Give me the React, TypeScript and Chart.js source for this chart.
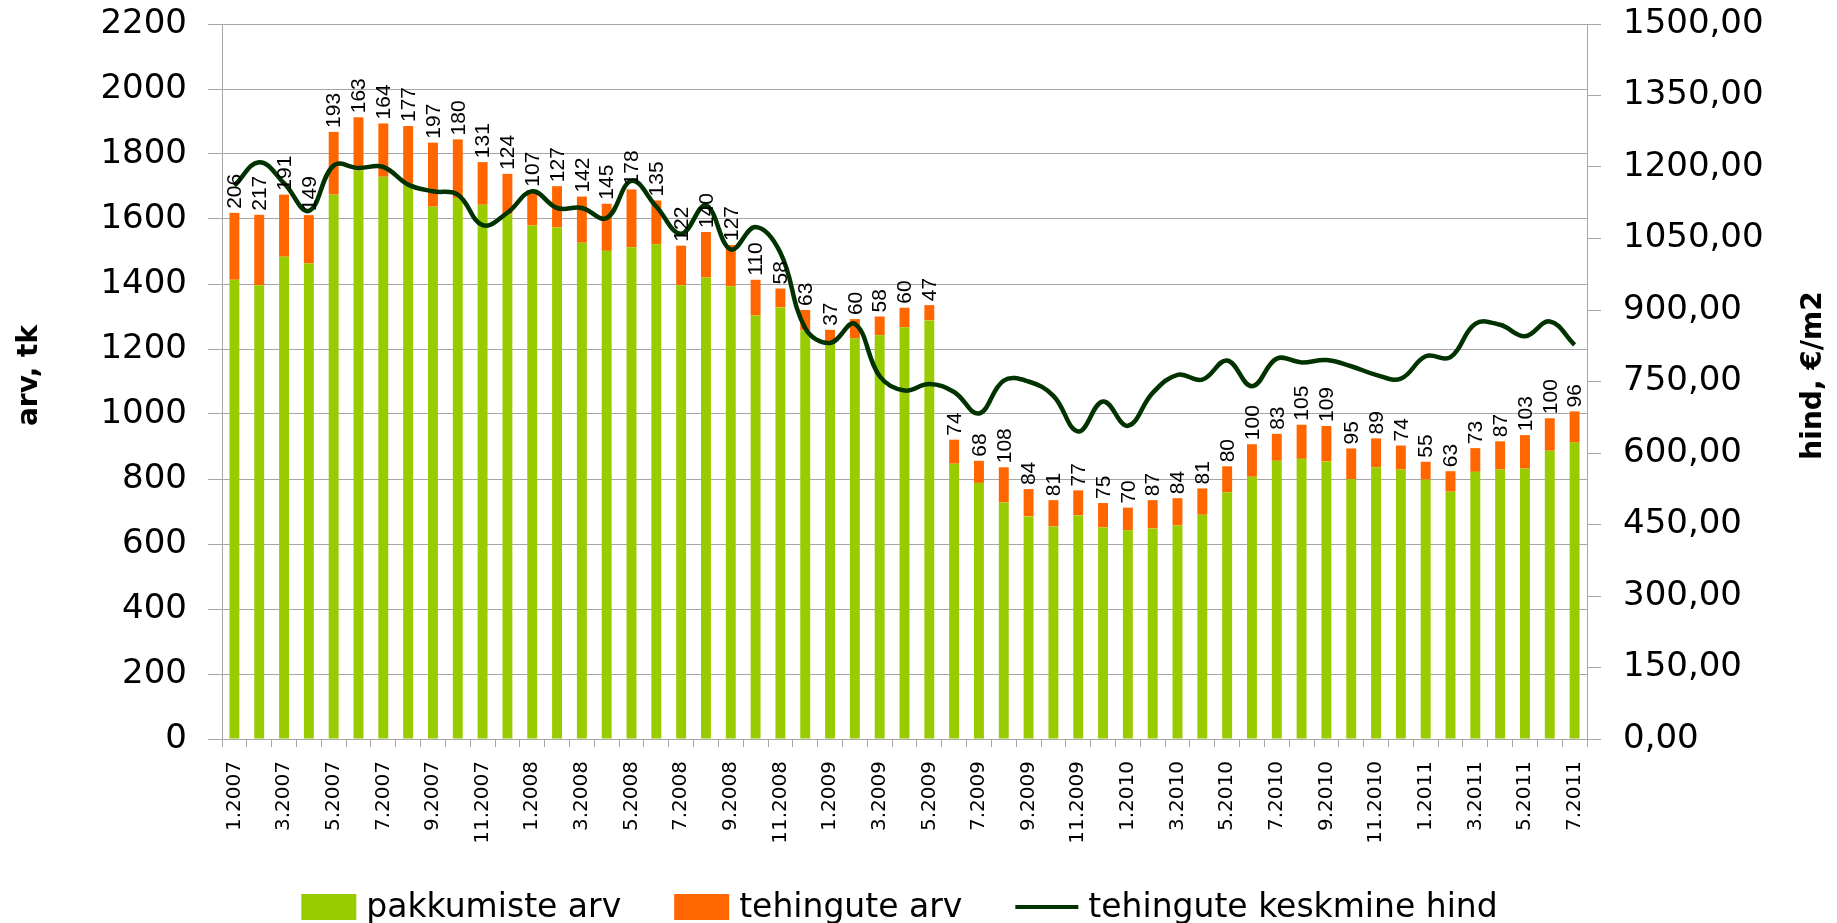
import React, { useEffect, useRef } from 'react';
import { Chart, registerables } from 'chart.js';

Chart.register(...registerables);

const months: string[] = [
  '1.2007', '2.2007', '3.2007', '4.2007', '5.2007', '6.2007', '7.2007', '8.2007', '9.2007', '10.2007', '11.2007', '12.2007',
  '1.2008', '2.2008', '3.2008', '4.2008', '5.2008', '6.2008', '7.2008', '8.2008', '9.2008', '10.2008', '11.2008', '12.2008',
  '1.2009', '2.2009', '3.2009', '4.2009', '5.2009', '6.2009', '7.2009', '8.2009', '9.2009', '10.2009', '11.2009', '12.2009',
  '1.2010', '2.2010', '3.2010', '4.2010', '5.2010', '6.2010', '7.2010', '8.2010', '9.2010', '10.2010', '11.2010', '12.2010',
  '1.2011', '2.2011', '3.2011', '4.2011', '5.2011', '6.2011', '7.2011',
];

// pakkumiste arv (offers)
const offers: number[] = [
  1413, 1396, 1484, 1463, 1675, 1750, 1730, 1709, 1638, 1665, 1644, 1615,
  1580, 1574, 1527, 1502, 1513, 1522, 1396, 1420, 1393, 1303, 1328, 1257,
  1222, 1232, 1242, 1267, 1288, 847, 788, 728, 685, 654, 688, 651,
  642, 648, 657, 690, 759, 807, 856, 862, 854, 799, 836, 829,
  798, 761, 822, 829, 832, 887, 912,
];

// tehingute arv (deals)
const deals: number[] = [
  206, 217, 191, 149, 193, 163, 164, 177, 197, 180, 131, 124,
  107, 127, 142, 145, 178, 135, 122, 140, 127, 110, 58, 63,
  37, 60, 58, 60, 47, 74, 68, 108, 84, 81, 77, 75,
  70, 87, 84, 81, 80, 100, 83, 105, 109, 95, 89, 74,
  55, 63, 73, 87, 103, 100, 96,
];

// tehingute keskmine hind (average price, €/m2)
const avgPrice: number[] = [
  1161, 1210, 1166, 1108, 1203, 1198, 1200, 1163, 1149, 1142, 1078, 1104,
  1149, 1114, 1114, 1093, 1171, 1117, 1060, 1119, 1027, 1074, 1020, 862,
  831, 871, 761, 731, 745, 728, 683, 752, 750, 720, 645, 708,
  657, 726, 764, 754, 794, 740, 798, 790, 795, 782, 764, 756,
  803, 801, 871, 869, 845, 876, 827,
];

const leftTitle = 'arv, tk';
const rightTitle = 'hind, €/m2';

const GREEN = '#99cc00';
const ORANGE = '#ff6600';
const LINE = '#003300';
const GRID = '#a6a6a6';

export default function App() {
  const ref = useRef<HTMLCanvasElement>(null);

  useEffect(() => {
    document.body.style.margin = '0';
    const canvas = ref.current!;
    const titleFont = 'bold 28px "DejaVu Sans"';

    const deco = {
      id: 'deco',
      afterDatasetsDraw(chart: any) {
        const ctx = chart.ctx;
        const meta = chart.getDatasetMeta(2);
        ctx.save();
        ctx.fillStyle = '#000';
        ctx.font = '21px "Liberation Sans"';
        ctx.textAlign = 'left';
        ctx.textBaseline = 'middle';
        meta.data.forEach((el: any, i: number) => {
          ctx.save();
          ctx.translate(el.x + 1, el.y - 4);
          ctx.rotate(-Math.PI / 2);
          ctx.fillText(String(deals[i]), 0, 0);
          ctx.restore();
        });
        ctx.restore();
      },
      afterDraw(chart: any) {
        const ctx = chart.ctx;
        const ca = chart.chartArea;
        const midY = (ca.top + ca.bottom) / 2 - 6;
        ctx.save();
        ctx.fillStyle = '#000';
        ctx.font = titleFont;
        ctx.textAlign = 'center';
        ctx.textBaseline = 'middle';
        ctx.save();
        ctx.translate(chart.scales.y.left + 30, midY);
        ctx.rotate(-Math.PI / 2);
        ctx.fillText(leftTitle, 0, 0);
        ctx.restore();
        ctx.save();
        ctx.translate(chart.scales.y1.right - 23, midY);
        ctx.rotate(-Math.PI / 2);
        ctx.fillText(rightTitle, 0, 0);
        ctx.restore();

        // legend
        const ds = chart.data.datasets;
        const items = [ds[1], ds[2], ds[0]];
        ctx.font = '33px "DejaVu Sans"';
        ctx.textAlign = 'left';
        const boxW = 55;
        const boxH = 26;
        const gap = 10;
        const itemGap = 53;
        const lineExtra = 8;
        const widths = items.map((d: any) => boxW + gap + ctx.measureText(d.label).width + (d.type === 'line' ? lineExtra : 0));
        const total = widths.reduce((s: number, w: number) => s + w, 0) + itemGap * (items.length - 1);
        let x = (ca.left + ca.right) / 2 - 5 - total / 2;
        const y = chart.height - 16;
        items.forEach((d: any, i: number) => {
          if (d.type === 'line') {
            ctx.strokeStyle = d.borderColor;
            ctx.lineWidth = 4;
            ctx.beginPath();
            ctx.moveTo(x, y);
            ctx.lineTo(x + boxW + lineExtra, y);
            ctx.stroke();
            ctx.fillStyle = '#000';
            ctx.fillText(d.label, x + boxW + lineExtra + gap, y + 1);
          } else {
            ctx.fillStyle = d.backgroundColor;
            ctx.fillRect(x, y - boxH / 2, boxW, boxH);
            ctx.fillStyle = '#000';
            ctx.fillText(d.label, x + boxW + gap, y + 1);
          }
          x += widths[i] + itemGap;
        });
        ctx.restore();
      },
    };

    const chart = new Chart(canvas, {
      type: 'bar',
      data: {
        labels: months,
        datasets: [
          {
            type: 'line',
            label: 'tehingute keskmine hind',
            data: avgPrice,
            yAxisID: 'y1',
            borderColor: LINE,
            backgroundColor: LINE,
            borderWidth: 4.5,
            pointRadius: 0,
            tension: 0.4,
            order: 0,
          } as any,
          {
            type: 'bar',
            label: 'pakkumiste arv',
            data: offers,
            yAxisID: 'y',
            backgroundColor: GREEN,
            stack: 's',
            order: 1,
            barPercentage: 0.4,
            categoryPercentage: 1,
          },
          {
            type: 'bar',
            label: 'tehingute arv',
            data: deals,
            yAxisID: 'y',
            backgroundColor: ORANGE,
            stack: 's',
            order: 1,
            barPercentage: 0.4,
            categoryPercentage: 1,
          },
        ],
      },
      options: {
        animation: false,
        responsive: true,
        maintainAspectRatio: false,
        layout: { padding: { top: 24, left: 0, right: 0, bottom: 0 } },
        plugins: {
          legend: { display: false },
          tooltip: { enabled: false },
          title: { display: false },
        },
        scales: {
          x: {
            stacked: true,
            offset: true,
            grid: { offset: true, drawOnChartArea: false, color: GRID, tickLength: 8, tickColor: GRID },
            border: { color: GRID, width: 1 },
            ticks: {
              autoSkip: false,
              minRotation: 90,
              maxRotation: 90,
              padding: 14,
              color: '#000',
              font: { family: 'DejaVu Sans', size: 20 },
              callback: (_v: any, i: number) => (i % 2 === 0 ? months[i] : ''),
            },
            afterFit: (s: any) => { s.height = 184; },
          },
          y: {
            stacked: true,
            position: 'left',
            min: 0,
            max: 2200,
            ticks: {
              stepSize: 200,
              padding: 21,
              color: '#000',
              font: { family: 'DejaVu Sans', size: 34 },
              callback: (v: any) => String(v),
            },
            grid: { color: GRID, tickLength: 14, tickColor: GRID },
            border: { color: GRID, width: 1 },
            afterFit: (s: any) => { s.width = 222; s.paddingTop = 10; s.paddingBottom = 10; },
          },
          y1: {
            position: 'right',
            min: 0,
            max: 1500,
            ticks: {
              stepSize: 150,
              padding: 22,
              color: '#000',
              font: { family: 'DejaVu Sans', size: 34 },
              callback: (v: any) => Number(v).toFixed(2).replace('.', ','),
            },
            grid: { drawOnChartArea: false, color: GRID, tickLength: 14, tickColor: GRID },
            border: { color: GRID, width: 1 },
            afterFit: (s: any) => { s.width = 250; s.paddingTop = 10; s.paddingBottom = 10; },
          },
        },
      } as any,
      plugins: [deco],
    });
    return () => chart.destroy();
  }, []);

  return (
    <div style={{ width: '1837px', height: '923px', position: 'relative' }}>
      <canvas ref={ref} />
    </div>
  );
}
